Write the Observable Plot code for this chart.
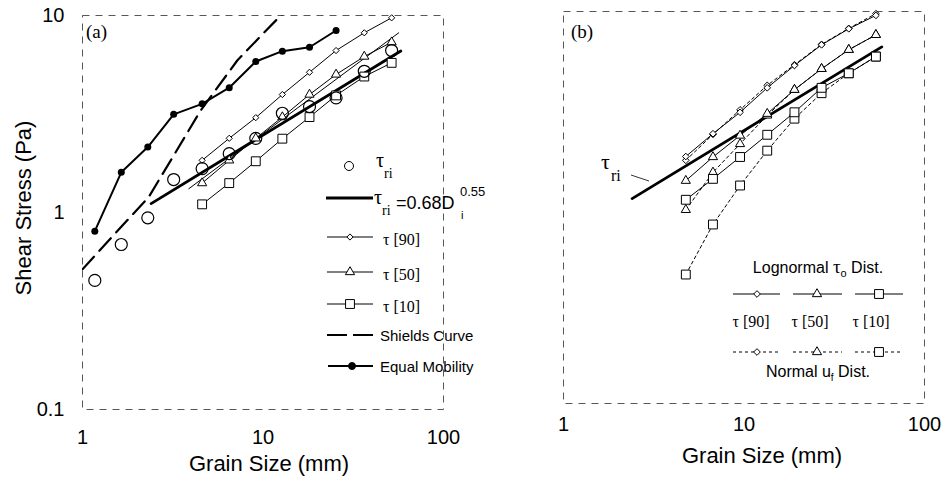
<!DOCTYPE html>
<html><head><meta charset="utf-8">
<script src="https://cdn.jsdelivr.net/npm/d3@7"></script>
<script src="https://cdn.jsdelivr.net/npm/@observablehq/plot@0.6"></script>
<style>
body{margin:0;background:#fff;}
#wrap{position:relative;width:949px;height:477px;overflow:hidden;background:#fff;}
#wrap svg{position:absolute;top:0;overflow:visible;}
</style></head><body><div id="wrap"></div>
<script>
// ---------- data ----------
const xTicks = [1, 10, 100];
const xTickLabels = ["1", "10", "100"];
const yTicks = [0.1, 1, 10];
const yTickLabels = ["0.1", "1", "10"];

// panel (a)
const grainA = [1.17, 1.64, 2.3, 3.2, 4.6, 6.5, 9.12, 12.8, 18.1, 25.4, 36.4, 51.6];
const tauRi = [0.452, 0.688, 0.94, 1.47, 1.67, 1.99, 2.38, 3.19, 3.45, 3.82, 5.21, 6.64];
const equalMobility = [0.804, 1.60, 2.15, 3.15, 3.56, 4.30, 5.84, 6.59, 6.90, 8.39];
const tau90A = [1.84, 2.38, 3.03, 3.97, 5.15, 6.64, 8.17, 9.73];
const tau50A = [1.41, 1.84, 2.38, 3.05, 3.97, 5.02, 6.19, 7.32];
const tau10A = [1.10, 1.41, 1.82, 2.37, 3.05, 3.93, 4.90, 5.75];
const shieldsGrain = [1, 1.5, 2.33, 3.3, 4.51, 7.2, 10, 12.8];
const shieldsTau = [0.515, 0.774, 1.2, 2.04, 3.29, 5.91, 8.08, 10.2];
const fitGrain = [2.4, 58];
const fitTau = [1.11, 6.6];
const thinGrain = [3.88, 56.5];
const thinTau = [1.32, 8.17];

// panel (b)
const grainB = [4.76, 6.73, 9.51, 13.45, 19.03, 26.9, 38.05, 53.8];
const tau90Log = [1.82, 2.38, 3.06, 4.08, 5.30, 6.76, 8.16, 9.55];
const tau50Log = [1.37, 1.81, 2.33, 3.01, 3.99, 5.10, 6.38, 7.60];
const tau10Log = [1.095, 1.40, 1.81, 2.35, 3.06, 4.08, 4.84, 5.89];
const tau90Norm = [1.74, 2.36, 3.15, 4.2, 5.35, 6.8, 8.2, 9.75];
const tau50Norm = [0.973, 1.51, 2.11, 2.95, 3.99, 5.10, 6.38, 7.60];
const tau10Norm = [0.455, 0.819, 1.295, 1.95, 2.84, 3.83, 4.84, 5.89];

// ---------- helpers ----------
const sans = "'Liberation Sans', Arial, Helvetica, sans-serif";
const serif = "'Liberation Serif', 'Times New Roman', serif";
const rows = (xs, ys) => ys.map((y, i) => ({x: xs[i], y}));
const fmtX = d => xTickLabels[xTicks.indexOf(d)];
const fmtY = d => yTickLabels[yTicks.indexOf(d)];
const diamondType = d3.symbolDiamond2 || d3.symbolDiamond;

function seriesMarks(data, symbol, r, dash) {
  return [
    Plot.line(data, {x: "x", y: "y", stroke: "black", strokeWidth: 1, strokeDasharray: dash}),
    Plot.dot(data, {x: "x", y: "y", symbol, r, fill: "white", stroke: "black", strokeWidth: 1})
  ];
}

function baseOptions(w, ml, mr, mt, mb) {
  return {
    width: w, height: 477, marginLeft: ml, marginRight: mr, marginTop: mt, marginBottom: mb,
    x: {type: "log", domain: [1, 100]},
    y: {type: "log", domain: [0.1, 10], axis: null},
    style: {fontFamily: sans, fontSize: "20px", background: "none", color: "black", overflow: "visible"}
  };
}

// legend drawing helpers (pixel space, decorative only)
function sym(g, type, x, y, r, fill) {
  g.append("path").attr("d", d3.symbol(type, Math.PI * r * r)())
    .attr("transform", `translate(${x},${y})`)
    .attr("fill", fill).attr("stroke", "black").attr("stroke-width", 1);
}
function seg(g, x1, x2, y, w, dash) {
  g.append("line").attr("x1", x1).attr("x2", x2).attr("y1", y).attr("y2", y)
    .attr("stroke", "black").attr("stroke-width", w).attr("stroke-dasharray", dash || null);
}
function txt(g, x, y, s, size, family, anchor) {
  return g.append("text").attr("x", x).attr("y", y).text(s)
    .attr("font-size", size).attr("font-family", family).attr("fill", "black")
    .attr("text-anchor", anchor || "start");
}

const wrap = document.getElementById("wrap");

// ---------- panel (a) ----------
const svgA = Plot.plot({
  ...baseOptions(470, 82, 27, 15, 68),
  marks: [
    Plot.frame({stroke: "#444", strokeWidth: 0.9, strokeDasharray: "7,6"}),
    Plot.axisX({ticks: xTicks, tickFormat: fmtX, tickSize: 0, tickPadding: 20, label: null, fontSize: 20}),
    Plot.axisY({ticks: yTicks, tickFormat: fmtY, tickSize: 0, tickPadding: 18, label: null, fontSize: 20}),
    Plot.line(rows(shieldsGrain, shieldsTau), {x: "x", y: "y", stroke: "black", strokeWidth: 2.2, strokeDasharray: "17,8", clip: true}),
    Plot.line(rows(fitGrain, fitTau), {x: "x", y: "y", stroke: "black", strokeWidth: 2.8}),
    Plot.line(rows(thinGrain, thinTau), {x: "x", y: "y", stroke: "black", strokeWidth: 1}),
    Plot.line(rows(grainA, equalMobility), {x: "x", y: "y", stroke: "black", strokeWidth: 2}),
    Plot.dot(rows(grainA, equalMobility), {x: "x", y: "y", r: 3.5, fill: "black"}),
    ...seriesMarks(rows(grainA.slice(4), tau90A), "diamond2", 2.8),
    ...seriesMarks(rows(grainA.slice(4), tau50A), "triangle", 3.4),
    ...seriesMarks(rows(grainA.slice(4), tau10A), "square", 5),
    Plot.dot(rows(grainA, tauRi), {x: "x", y: "y", r: 6, fill: "none", stroke: "black", strokeWidth: 1.2})
  ]
});
svgA.style.left = "0px";
svgA.style.zIndex = 2;

// ---------- panel (b) ----------
const svgB = Plot.plot({
  ...baseOptions(479, 93, 25, 11, 74),
  marks: [
    Plot.frame({stroke: "#444", strokeWidth: 0.9, strokeDasharray: "7,6"}),
    Plot.axisX({ticks: xTicks, tickFormat: fmtX, tickSize: 0, tickPadding: 13, label: null, fontSize: 20}),
    Plot.line(rows(fitGrain, fitTau), {x: "x", y: "y", stroke: "black", strokeWidth: 2.8}),
    ...seriesMarks(rows(grainB, tau90Norm), "diamond2", 3, "3,3"),
    ...seriesMarks(rows(grainB, tau50Norm), "triangle", 3.4, "3,3"),
    ...seriesMarks(rows(grainB, tau10Norm), "square", 5, "3,3"),
    ...seriesMarks(rows(grainB, tau90Log), "diamond2", 3),
    ...seriesMarks(rows(grainB, tau50Log), "triangle", 3.4),
    ...seriesMarks(rows(grainB, tau10Log), "square", 5)
  ]
});
svgB.style.left = "470px";
svgB.style.zIndex = 1;

wrap.appendChild(svgB);
wrap.appendChild(svgA);

// ---------- annotations panel (a) ----------
const gA = d3.select(svgA).append("g");
txt(gA, 31, 208, "Shear Stress (Pa)", 22, sans, "middle").attr("transform", "rotate(-90,31,208)");
txt(gA, 269, 471, "Grain Size (mm)", 22, sans, "middle");
txt(gA, 86, 38, "(a)", 19, serif);
// legend
sym(gA, d3.symbolCircle, 349, 166, 4.5, "none");
txt(gA, 376, 167, "τ", 20, serif);
txt(gA, 384, 178, "ri", 14, serif);
seg(gA, 326, 373, 198, 2.8);
txt(gA, 374, 204, "τ", 20, serif);
txt(gA, 382, 215, "ri", 14, serif);
txt(gA, 396, 209, "=0.68D", 18, sans);
txt(gA, 460, 196, "0.55", 13, sans);
txt(gA, 461, 219, "i", 11, sans);
const legRows = [
  {y: 237, type: diamondType, r: 2.8, label: "τ [90]"},
  {y: 272, type: d3.symbolTriangle, r: 3.4, label: "τ [50]"},
  {y: 304, type: d3.symbolSquare, r: 5, label: "τ [10]"}
];
legRows.forEach(d => {
  seg(gA, 327, 373, d.y, 1);
  sym(gA, d.type, 350, d.y, d.r, "white");
  txt(gA, 383, d.y + 8, d.label, 16, serif);
});
seg(gA, 327, 373, 335, 2.2, "20,6");
txt(gA, 380, 341, "Shields Curve", 15, sans);
seg(gA, 328, 373, 366, 2);
sym(gA, d3.symbolCircle, 352, 366, 3.5, "black");
txt(gA, 380, 372, "Equal Mobility", 15, sans);

// ---------- annotations panel (b) ----------
const gB = d3.select(svgB).append("g").attr("transform", "translate(-470,0)");
txt(gB, 762, 463, "Grain Size (mm)", 22, sans, "middle");
txt(gB, 571, 38, "(b)", 19, serif);
txt(gB, 601, 169, "τ", 22, serif);
txt(gB, 611, 181, "ri", 16, serif);
gB.append("line").attr("x1", 631).attr("y1", 175).attr("x2", 649).attr("y2", 181)
  .attr("stroke", "black").attr("stroke-width", 0.8);
const h1 = txt(gB, 818, 273, "Lognormal ", 16, sans, "middle");
h1.append("tspan").attr("font-family", serif).attr("font-size", 19).text("τ");
h1.append("tspan").attr("font-size", 11).attr("dy", 4).text("o");
h1.append("tspan").attr("dy", -4).text(" Dist.");
const legB = [
  {x1: 733, x2: 780, mx: 757, type: diamondType, r: 3, label: "τ [90]", lx: 751},
  {x1: 793, x2: 842, mx: 817, type: d3.symbolTriangle, r: 3.4, label: "τ [50]", lx: 810},
  {x1: 855, x2: 903, mx: 879, type: d3.symbolSquare, r: 5, label: "τ [10]", lx: 871}
];
legB.forEach(d => {
  seg(gB, d.x1, d.x2, 294, 1);
  sym(gB, d.type, d.mx, 294, d.r, "white");
  txt(gB, d.lx, 327, d.label, 16, serif, "middle");
  seg(gB, d.x1, d.x2, 352, 1, "3,3");
  sym(gB, d.type, d.mx, 352, d.r, "white");
});
const h2 = txt(gB, 818, 377, "Normal u", 16, sans, "middle");
h2.append("tspan").attr("font-size", 10).attr("dy", 4).text("f");
h2.append("tspan").attr("dy", -4).text(" Dist.");
</script>
</body></html>
